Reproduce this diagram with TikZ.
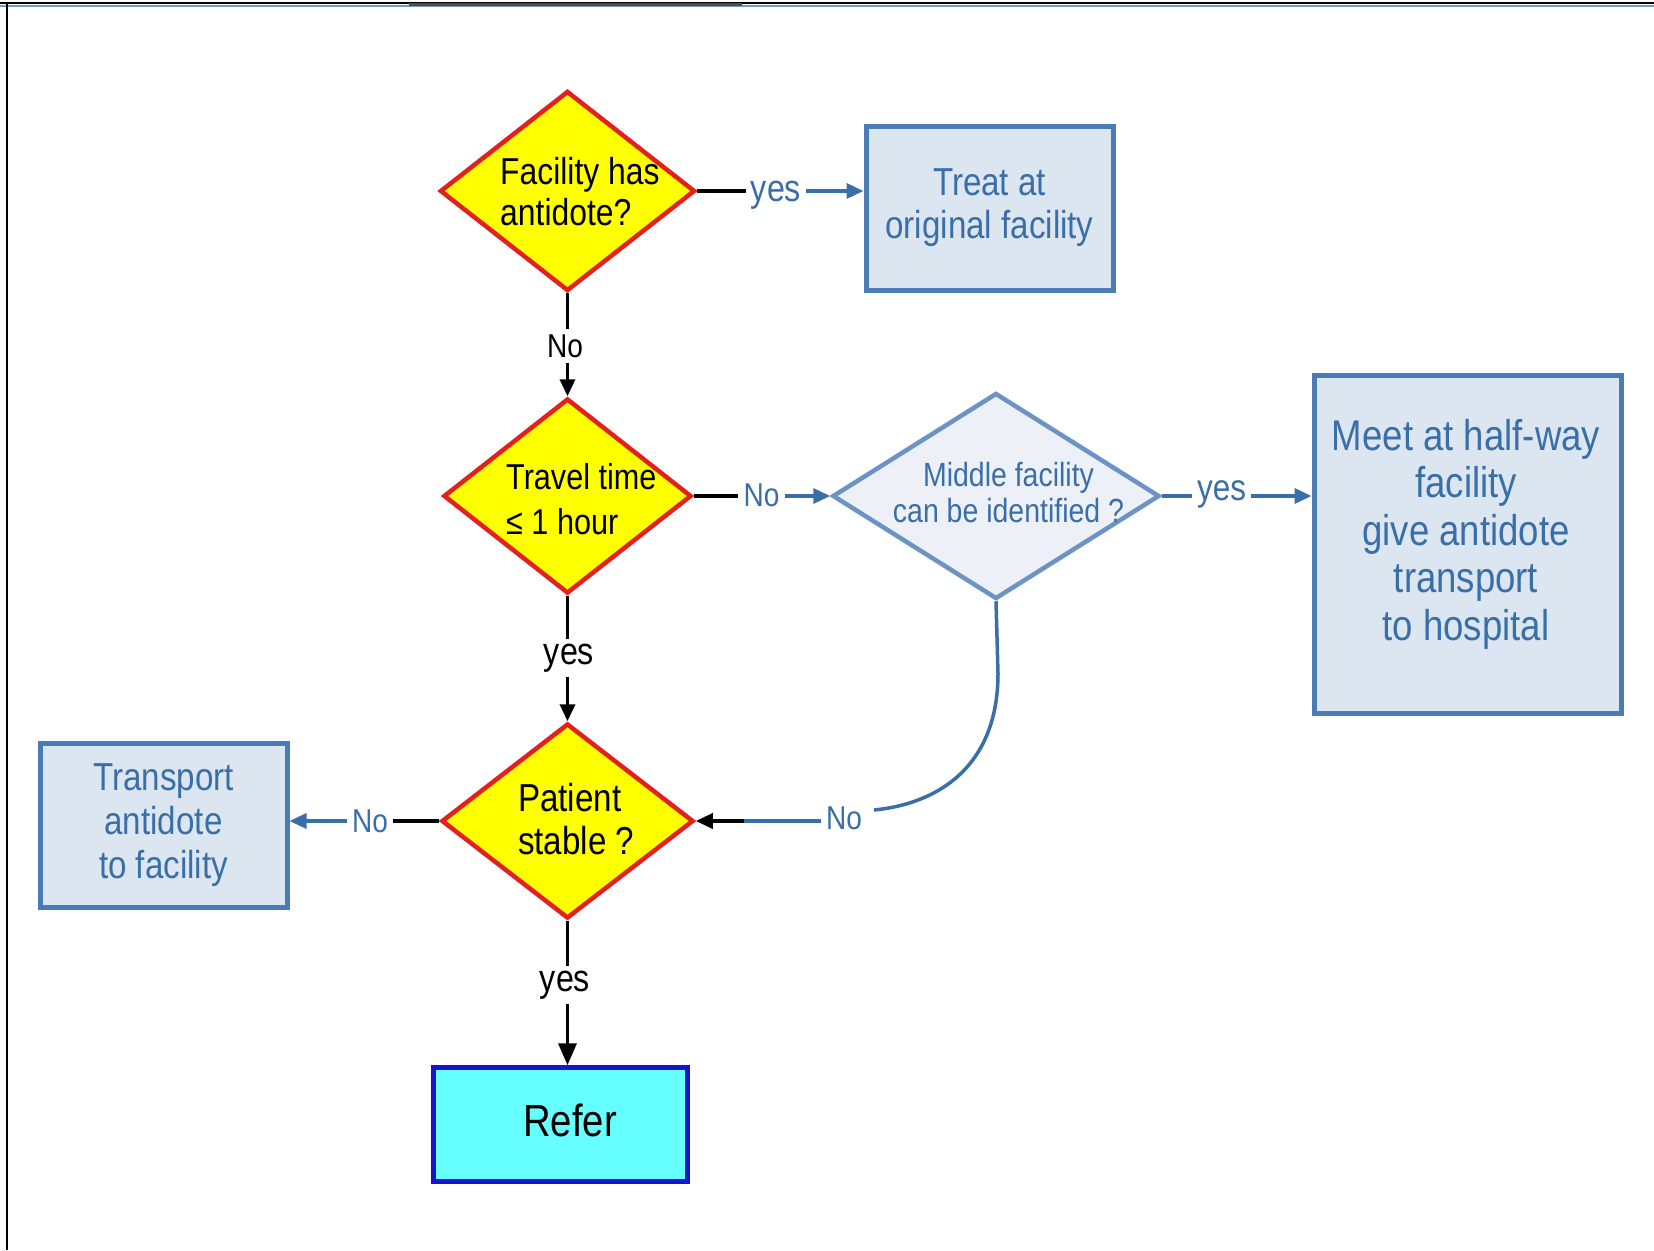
\documentclass[tikz,border=0pt]{standalone}
\usepackage{fontspec}
\setmainfont{Liberation Sans}[FakeStretch=0.85]
\usetikzlibrary{shapes.geometric,arrows.meta}
\definecolor{tblue}{HTML}{3A6EA8}
\definecolor{bborder}{HTML}{4A7DB6}
\definecolor{bfill}{HTML}{DCE6F1}
\definecolor{dfill}{HTML}{EDF1F7}
\definecolor{dborder}{HTML}{6B94C4}
\definecolor{dred}{HTML}{E3201B}
\definecolor{dyellow}{HTML}{FFFF00}
\definecolor{rfill}{HTML}{66FFFF}
\definecolor{rborder}{HTML}{1515CC}
\newcommand\fsz[2]{\fontsize{#1}{#2}\selectfont}
\tikzset{
  qdia/.style={diamond, draw=dred, fill=dyellow, line width=4.5pt, inner sep=0pt},
  mdia/.style={diamond, draw=dborder, fill=dfill, line width=4.5pt, inner sep=0pt},
  bbox/.style={rectangle, draw=bborder, fill=bfill, line width=5pt, inner sep=0pt, text=tblue, align=center},
  qtext/.style={anchor=west, align=left, inner sep=0pt, text=black},
  btext/.style={inner sep=0pt, align=center, text=tblue},
  blab/.style={inner sep=5pt, text=tblue, font=\fsz{33}{36}},
  klab/.style={inner sep=5pt, text=black, font=\fsz{33}{36}},
  bline/.style={draw=tblue, line width=3.5pt},
  kline/.style={draw=black, line width=3.5pt},
  barr/.style={draw=tblue, line width=3.5pt, -{Triangle[length=17pt,width=15pt]}},
  karr/.style={draw=black, line width=3.5pt, -{Triangle[length=17pt,width=15pt]}},
}
\begin{document}
\begin{tikzpicture}[x=1pt,y=-1pt]
\useasboundingbox (0,0) rectangle (1654,1250);
\fill[white] (0,0) rectangle (1654,1250);
% frame
\draw[tblue!70, line width=2.5pt] (0,6) -- (1654,6);
\draw[black, line width=2pt] (0,3) -- (1654,3);
\draw[black!70, line width=3pt] (409,4) -- (742,4);
\draw[black, line width=2pt] (7,3) -- (7,1250);

% shapes
\node[qdia, minimum width=255pt, minimum height=200pt] (d1) at (567.5,191) {};
\node[qtext, font=\fsz{37.5}{41}] (t1) at (500,191.5) {Facility has\\antidote?};
\node[bbox, minimum width=247pt, minimum height=164pt, font=\fsz{39}{43}] (treat) at (989.5,208) {Treat at\\original facility};

\node[qdia, minimum width=248pt, minimum height=195pt] (d2) at (567.5,496) {};
\node[qtext, font=\fsz{36}{45}] (t2) at (506,499) {Travel time\\≤ 1 hour};

\node[mdia, minimum width=327pt, minimum height=206pt] (d3) at (996,496) {};
\node[btext, font=\fsz{33.5}{36}] (t3) at (1008.5,493) {Middle facility\\can be identified ?};

\node[bbox, minimum width=307pt, minimum height=338pt] (meet) at (1467.5,544) {};
\node[btext, font=\fsz{43}{47.5}] (t5) at (1466,534) {Meet at half-way\\facility\\give antidote\\transport\\to hospital};

\node[qdia, minimum width=252pt, minimum height=195pt] (d4) at (567.5,821) {};
\node[qtext, font=\fsz{39}{43}] (t4) at (518,819) {Patient\\stable ?};

\node[bbox, minimum width=247pt, minimum height=164pt, font=\fsz{39}{44}] (trans) at (163.5,825) {Transport\\antidote\\to facility};

\node[rectangle, draw=rborder, fill=rfill, line width=4.5pt, minimum width=254pt, minimum height=114pt, inner sep=0pt, font=\fsz{45}{48}] (refer) at (560.6,1124.5) {\raisebox{8pt}{\hspace*{19pt}Refer}};

% labels
\node[blab, font=\fsz{38}{40}] (l1) at (776,195) {yes};
\node[klab] (l2) at (565,346) {No};
\node[blab] (l3) at (761.6,495) {No};
\node[blab, font=\fsz{37}{40}] (l4) at (1221.5,494) {yes};
\node[klab, font=\fsz{38}{40}] (l5) at (569,658) {yes};
\node[blab] (l6) at (370,821) {No};
\node[blab] (l7) at (844,818) {No};
\node[klab, font=\fsz{38}{40}] (l8) at (565,985) {yes};

% connectors
\draw[kline] (d1.east) -- (l1.west |- d1.east);
\draw[barr] (l1.east |- d1.east) -- (treat.west |- d1.east);

\draw[kline] (d1.south) -- (l2.north -| d1.south);
\draw[karr] (l2.south -| d2.north) -- (d2.north);

\draw[kline] (d2.east) -- (l3.west |- d2.east);
\draw[barr] (l3.east |- d3.west) -- (d3.west);

\draw[bline] (d3.east) -- (l4.west |- d3.east);
\draw[barr] (l4.east |- d3.east) -- (meet.west |- d3.east);

\draw[kline] (d2.south) -- (l5.north -| d2.south);
\draw[karr] (l5.south -| d4.north) -- (d4.north);

\draw[kline] (d4.west) -- (l6.east |- d4.west);
\draw[barr] (l6.west |- d4.west) -- (trans.east |- d4.west);

\coordinate (c7) at (874,810);
\coordinate (c8) at (744,821);
\draw[bline] (d3.south) -- ++(2,72) .. controls +(0,95) and +(62,-6) .. (c7);
\draw[bline] (l7.west |- c8) -- (c8);
\draw[kline, -{Triangle[length=17pt,width=15pt]}] (c8) -- (d4.east);

\draw[kline] (d4.south) -- (l8.north -| d4.south);
\draw[karr, -{Triangle[length=22pt,width=18pt]}] (l8.south -| d4.south) -- (refer.north -| d4.south);
\end{tikzpicture}
\end{document}
